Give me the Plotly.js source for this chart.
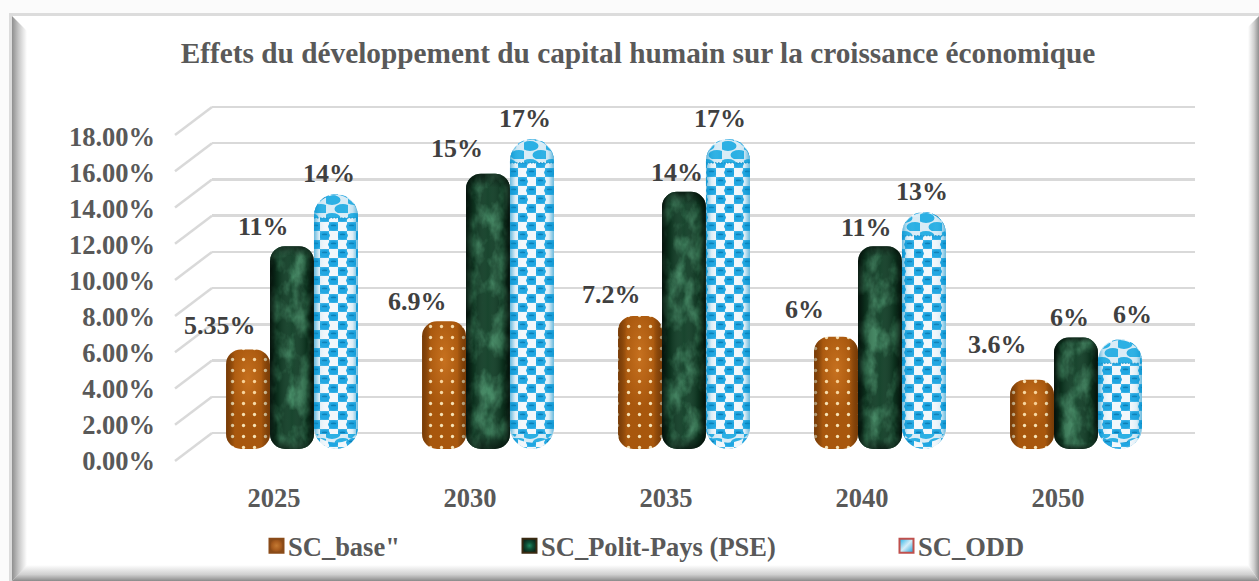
<!DOCTYPE html>
<html><head><meta charset="utf-8">
<script src="https://cdn.plot.ly/plotly-3.0.1.min.js"></script>
<style>
html,body{margin:0;padding:0;background:#fbfbfb;width:1259px;height:581px;overflow:hidden}
#frame{position:absolute;left:9px;top:13px;width:1250px;height:568px;background:#fff;border-top:3px solid #dcdcdc;border-left:3px solid #dcdcdc;box-sizing:border-box}
.bev{position:absolute}
#bl{left:0;top:0;width:15px;height:100%;background:linear-gradient(to right,#8f8f8f,#c8c8c8 45%,#fff);clip-path:polygon(0 0,100% 15px,100% calc(100% - 15px),0 100%)}
#bb{left:0;bottom:0;width:100%;height:16px;background:linear-gradient(to top,#8a8a8a,#cfcfcf 40%,#fff);clip-path:polygon(0 100%,15px 0,calc(100% - 11px) 0,100% 100%)}
#br{right:0;top:0;width:11px;height:100%;background:linear-gradient(to left,#8f8f8f,#cfcfcf 45%,#fff);clip-path:polygon(0 11px,100% 0,100% 100%,0 calc(100% - 16px))}
#chart{position:absolute;left:0;top:0;width:1259px;height:581px}
</style></head><body>
<div id="frame"><div class="bev" id="bl"></div><div class="bev" id="bb"></div><div class="bev" id="br"></div></div>
<div id="chart"></div>
<script>
const categories = ['2025','2030','2035','2040','2050'];
const seriesNames = ['SC_base"','SC_Polit-Pays (PSE)','SC_ODD'];
const scBase = [0.0550,0.0705,0.0735,0.0620,0.0382];
const scPolit = [0.1120,0.1520,0.1420,0.1120,0.0615];
const scOdd = [0.1408,0.1712,0.1712,0.1310,0.0606];
const labelsBase = ['5.35%','6.9%','7.2%','6%','3.6%'];
const labelsPolit = ['11%','15%','14%','11%','6%'];
const labelsOdd = ['14%','17%','17%','13%','6%'];
const tickValues = [0,0.02,0.04,0.06,0.08,0.10,0.12,0.14,0.16,0.18];

// label nudges in px relative to the top of each bar
const nudgeX = [[-28,-27,-29,-32,-35],[-29,-31,-7,-14,-7],[-7,-7,-8,-2,12]];
const nudgeY = [[24,20,21,27,35],[20,25,19,19,20],[21,20,20,20,25]];

const W=1259,H=581;
const fx=p=>p/W, fy=p=>1-p/H;
const SERIF='"Liberation Serif","Times New Roman",serif';
const GREY='#595959';

const seriesValues=[scBase,scPolit,scOdd];
const seriesLabels=[labelsBase,labelsPolit,labelsOdd];
const styles=[
 {color:'#a8570d',pattern:{shape:'.',fgcolor:'#f6e2b5',bgcolor:'#a8570d',size:11,solidity:0.07}},
 {color:'#0f3d25',pattern:{shape:'',fgcolor:'#0f3d25',bgcolor:'#0f3d25'}},
 {color:'#2ba6da',pattern:{shape:'x',fgcolor:'#2ba6da',bgcolor:'#e3eef5',size:10,solidity:0.45}}
];
const barRadius=[15,15,22];
const legendX=[248,501,878];

const traces=[];
// front axis (tick labels) and back wall (gridlines) carriers
traces.push({type:'scatter',mode:'none',x:categories,y:categories.map(()=>0),xaxis:'x',yaxis:'y',showlegend:false,hoverinfo:'skip'});
traces.push({type:'scatter',mode:'none',x:categories,y:categories.map(()=>0),xaxis:'x2',yaxis:'y2',showlegend:false,hoverinfo:'skip'});
seriesValues.forEach((vals,i)=>{
  traces.push({type:'bar',name:seriesNames[i],x:categories,y:vals,xaxis:'x3',yaxis:'y3',
    marker:{color:styles[i].color,pattern:styles[i].pattern,line:{width:0}},
    legend:i===0?'legend':'legend'+(i+1),showlegend:true,hoverinfo:'skip'});
});

const annotations=[];
seriesValues.forEach((vals,s)=>{
  vals.forEach((v,c)=>{
    annotations.push({xref:'x3',yref:'y3',x:c,y:v,text:seriesLabels[s][c],showarrow:false,
      xshift:(s-1)*44+nudgeX[s][c],yshift:nudgeY[s][c],xanchor:'center',yanchor:'middle',
      font:{family:SERIF,size:26,color:'#404040',weight:700}});
  });
});

// side wall diagonals joining the front tick positions to the back wall
const frontZero=461, backZero=433, wallStep=326/0.18, wallPad=3;
const shapes=tickValues.map(t=>({type:'line',xref:'paper',yref:'paper',layer:'below',
  x0:fx(175),x1:fx(212),y0:fy(frontZero-t*wallStep),y1:fy(backZero-t*wallStep),
  line:{color:'#d9d9d9',width:2.5}}));

const legendCfg=i=>({x:fx(legendX[i]),y:fy(546),xanchor:'left',yanchor:'middle',orientation:'h',
  bgcolor:'rgba(0,0,0,0)',borderwidth:0,font:{family:SERIF,size:26.5,color:GREY,weight:700},itemwidth:30,tracegroupgap:0});

const layout={
  width:W,height:H,margin:{l:0,r:0,t:0,b:0},paper_bgcolor:'rgba(0,0,0,0)',plot_bgcolor:'rgba(0,0,0,0)',
  showlegend:true,barmode:'group',bargap:0.327,bargroupgap:0,
  title:{text:'Effets du développement du capital humain sur la croissance économique',
    font:{family:SERIF,size:29.3,color:GREY,weight:700},x:fx(638),xanchor:'center',y:fy(53),yanchor:'middle'},
  xaxis:{domain:[fx(176),fx(1156)],anchor:'y',type:'category',categoryorder:'array',categoryarray:categories,range:[-0.5,4.5],
    showgrid:false,zeroline:false,showline:false,ticks:'',ticklabelstandoff:18,
    tickfont:{family:SERIF,size:26.5,color:GREY,weight:700}},
  yaxis:{domain:[fy(frontZero),fy(frontZero-324)],anchor:'x',range:[0,0.18],tickvals:tickValues,tickformat:'.2%',
    showgrid:false,zeroline:false,showline:false,ticks:'',ticklabelstandoff:20,
    tickfont:{family:SERIF,size:26.5,color:GREY,weight:700}},
  xaxis2:{domain:[fx(212),fx(1195)],anchor:'y2',type:'category',categoryorder:'array',categoryarray:categories,range:[-0.5,4.5],
    showgrid:false,zeroline:false,showline:false,showticklabels:false,ticks:''},
  yaxis2:{domain:[fy(backZero+wallPad),fy(backZero-326-wallPad)],anchor:'x2',
    range:[-wallPad/wallStep,0.18+wallPad/wallStep],tickvals:tickValues,showticklabels:false,
    showgrid:true,gridcolor:'#d9d9d9',gridwidth:2.5,zeroline:true,zerolinecolor:'#d9d9d9',zerolinewidth:2.5,showline:false,ticks:''},
  xaxis3:{domain:[fx(194),fx(1174)],anchor:'y3',type:'category',categoryorder:'array',categoryarray:categories,range:[-0.5,4.5],
    showgrid:false,zeroline:false,showline:false,showticklabels:false,ticks:''},
  yaxis3:{domain:[fy(449),fy(449-326)],anchor:'x3',range:[0,0.18],showgrid:false,zeroline:false,showline:false,showticklabels:false,ticks:''},
  legend:legendCfg(0),legend2:legendCfg(1),legend3:legendCfg(2),
  shapes,annotations
};

const NS='http://www.w3.org/2000/svg';
function rounded(x,y,w,h,r){
  return `M${x},${y+r}A${r},${r} 0 0 1 ${x+r},${y}H${x+w-r}A${r},${r} 0 0 1 ${x+w},${y+r}V${y+h-r}A${r},${r} 0 0 1 ${x+w-r},${y+h}H${x+r}A${r},${r} 0 0 1 ${x},${y+h-r}Z`;
}
function decorate(gd){
  const svg=gd.querySelector('svg.main-svg');
  if(!svg||svg.querySelector('#texDefs'))return;
  const d=document.createElementNS(NS,'defs');d.id='texDefs';
  d.innerHTML=`
  <linearGradient id="edge" x1="0" x2="1" y1="0" y2="0">
    <stop offset="0" stop-color="#000" stop-opacity=".75"/><stop offset=".18" stop-color="#000" stop-opacity=".2"/>
    <stop offset=".5" stop-color="#fff" stop-opacity=".04"/><stop offset=".82" stop-color="#000" stop-opacity=".2"/>
    <stop offset="1" stop-color="#000" stop-opacity=".75"/></linearGradient>
  <linearGradient id="edgeBrown" x1="0" x2="1" y1="0" y2="0">
    <stop offset="0" stop-color="#3c1a00" stop-opacity=".45"/><stop offset=".2" stop-color="#000" stop-opacity="0"/>
    <stop offset=".8" stop-color="#000" stop-opacity="0"/><stop offset="1" stop-color="#3c1a00" stop-opacity=".45"/></linearGradient>
  <linearGradient id="edgeSoft" x1="0" x2="1" y1="0" y2="0">
    <stop offset="0" stop-color="#0a8fc9" stop-opacity=".6"/><stop offset=".12" stop-color="#0a8fc9" stop-opacity=".1"/><stop offset=".3" stop-color="#fff" stop-opacity="0"/>
    <stop offset=".7" stop-color="#fff" stop-opacity="0"/><stop offset=".88" stop-color="#0a8fc9" stop-opacity=".1"/><stop offset="1" stop-color="#0a8fc9" stop-opacity=".6"/></linearGradient>
  <linearGradient id="vert" x1="0" x2="0" y1="0" y2="1">
    <stop offset="0" stop-color="#000" stop-opacity=".55"/><stop offset=".05" stop-color="#000" stop-opacity="0"/>
    <stop offset=".95" stop-color="#000" stop-opacity="0"/><stop offset="1" stop-color="#000" stop-opacity=".55"/></linearGradient>
  <pattern id="ovals" patternUnits="userSpaceOnUse" width="18" height="18">
    <rect width="18" height="18" fill="#f2f7fb"/>
    <rect x="0" y="0" width="9" height="9" fill="#42b4e6"/><rect x="9" y="9" width="9" height="9" fill="#42b4e6"/>
    <ellipse cx="4.5" cy="4.5" rx="5.4" ry="4" fill="#1fa6e2"/><ellipse cx="13.5" cy="13.5" rx="5.4" ry="4" fill="#1fa6e2"/>
    <ellipse cx="4.5" cy="3.4" rx="2.8" ry=".9" fill="#0c7fb6"/><ellipse cx="13.5" cy="12.4" rx="2.8" ry=".9" fill="#0c7fb6"/>
  </pattern>
  <pattern id="capTex" patternUnits="userSpaceOnUse" width="22" height="18">
    <rect width="22" height="18" fill="#d9ecf6"/>
    <ellipse cx="6" cy="5" rx="8.5" ry="5" fill="#2cb0e4"/><ellipse cx="17" cy="14" rx="8.5" ry="5" fill="#2cb0e4"/>
  </pattern>
  <radialGradient id="glow" cx=".5" cy=".3" r=".4" gradientUnits="objectBoundingBox">
    <stop offset="0" stop-color="#ffa040" stop-opacity=".35"/><stop offset="1" stop-color="#ffa040" stop-opacity="0"/></radialGradient>
  <filter id="marble" x="0" y="0" width="100%" height="100%" color-interpolation-filters="sRGB">
    <feTurbulence type="fractalNoise" baseFrequency="0.06 0.035" numOctaves="4" seed="11"/>
    <feColorMatrix type="matrix" values="0 0 0 0 0.24  0 0 0 0 0.52  0 0 0 0 0.37  2.6 0 0 0 -1.0"/>
    <feComposite in2="SourceAlpha" operator="in"/>
  </filter>`;
  svg.insertBefore(d,svg.firstChild);
  const bars=gd.querySelectorAll('.barlayer .trace.bars');
  bars.forEach((t,i)=>{
    t.querySelectorAll('.point path').forEach(p=>{
      const b=p.getBBox(), g=p.parentNode, r=barRadius[i];
      p.setAttribute('d',rounded(b.x,b.y,b.width,b.height,r));
      const add=(fill,extra)=>{const c=p.cloneNode(false);c.removeAttribute('style');c.setAttribute('fill',fill);
        if(extra)c.setAttribute('filter',extra);g.appendChild(c);return c;};
      if(i===1){add('#fff','url(#marble)');}
      if(i===2){
        add('url(#ovals)');
        const capH=24, botH=15;
        const top=document.createElementNS(NS,'path');
        top.setAttribute('d',`M${b.x},${b.y+capH}V${b.y+r}A${r},${r} 0 0 1 ${b.x+b.width},${b.y+r}V${b.y+capH}Z`);
        top.setAttribute('fill','url(#capTex)');g.appendChild(top);
        const bot=document.createElementNS(NS,'path');
        const yb=b.y+b.height;
        bot.setAttribute('d',`M${b.x+2},${yb-botH}H${b.x+b.width-2}A${r},${botH} 0 0 1 ${b.x+2},${yb-botH}Z`);
        bot.setAttribute('fill','url(#capTex)');g.appendChild(bot);
        const seam=document.createElementNS(NS,'path');
        seam.setAttribute('d',`M${b.x},${b.y+capH}H${b.x+b.width}`);
        seam.setAttribute('stroke','#1b93c9');seam.setAttribute('stroke-width','1.2');seam.setAttribute('stroke-dasharray','1.5 1.5');
        g.appendChild(seam);
      }
      if(i===0)add('url(#glow)');
      add(i===2?'url(#edgeSoft)':(i===0?'url(#edgeBrown)':'url(#edge)'));
      if(i===1)add('url(#vert)');
    });
  });
  // legend swatches: square textured keys
  const legendFill=['url(#swBrown)','url(#swGreen)','url(#swBlue)'];
  const d2=document.createElementNS(NS,'defs');
  d2.innerHTML=`
  <radialGradient id="swBrown"><stop offset="0" stop-color="#c47a33"/><stop offset=".65" stop-color="#a85c1e"/><stop offset="1" stop-color="#8a4b18"/></radialGradient>
  <radialGradient id="swGreen"><stop offset="0" stop-color="#1f8a5f"/><stop offset=".5" stop-color="#0f4f36"/><stop offset="1" stop-color="#0a2a1c"/></radialGradient>
  <linearGradient id="swBlue" x1="0" x2="1" y1="0" y2="1"><stop offset="0" stop-color="#1fb0e8"/><stop offset=".5" stop-color="#d6eef8"/><stop offset="1" stop-color="#1a9fd8"/></linearGradient>`;
  svg.insertBefore(d2,svg.firstChild);
  const strokes=['#8a4b18','#3a2a12','#c0504d'];
  ['legend','legend2','legend3'].forEach((name,i)=>{
    const lg=gd.querySelector('.'+name+' .legendpoints path');
    if(!lg)return;
    lg.setAttribute('d','M1.5,-7H15.5V7H1.5Z');
    lg.style.fill=legendFill[i];lg.style.stroke=strokes[i];lg.style.strokeWidth='2px';lg.style.fillOpacity=1;
  });
}
Plotly.newPlot('chart',traces,layout,{displayModeBar:false,staticPlot:true}).then(decorate);
</script>
</body></html>
